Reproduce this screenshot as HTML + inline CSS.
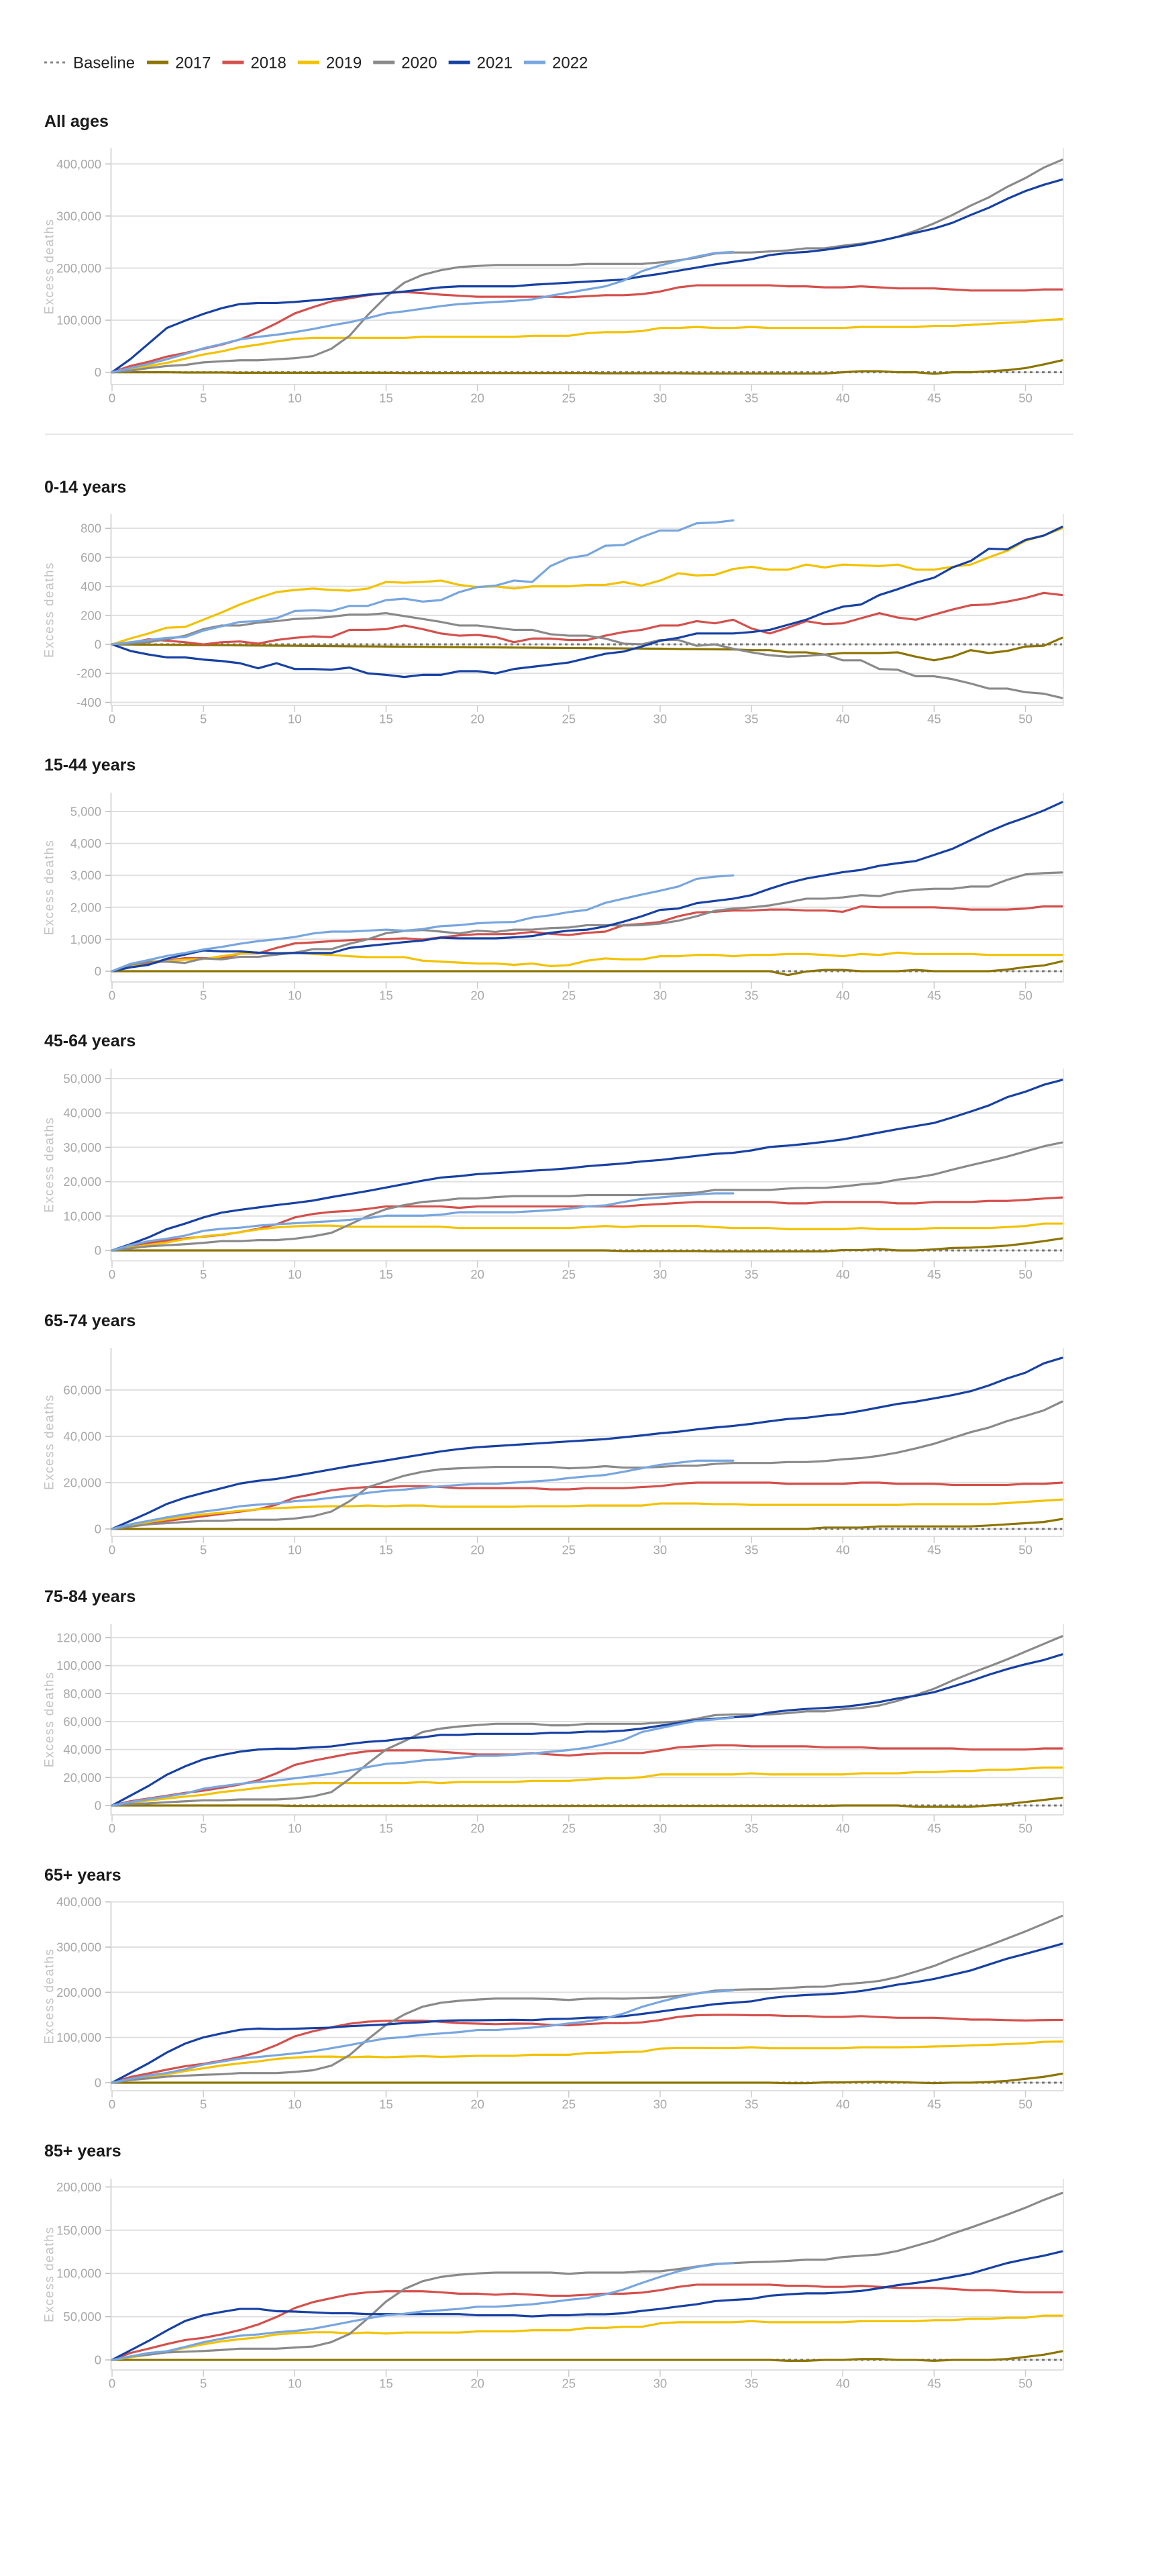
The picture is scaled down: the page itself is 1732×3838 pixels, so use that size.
<!DOCTYPE html>
<html>
<head>
<meta charset="utf-8">
<style>
  html,body{margin:0;padding:0;background:#fff;}
  svg{display:block;}
  text{font-family:"Liberation Sans",sans-serif;}
</style>
</head>
<body>
<svg id="root" width="1732" height="3838" viewBox="0 0 1732 3838" xmlns="http://www.w3.org/2000/svg"></svg>
<script>
// ---------- shared axis data ----------
const xTickValues = [0,5,10,15,20,25,30,35,40,45,50];
const seriesYears = ["2017","2018","2019","2020","2021","2022"];
const seriesColors = ["#8c7400","#d4504c","#f2c200","#8a8a8a","#1741a3","#78a6de"];

// ---------- All ages (thousands) ----------
const allTicks = [0,100,200,300,400];
const allTickLabels = ["0","100,000","200,000","300,000","400,000"];
const all2017 = [0,0,0,0,-0.5,-0.5,-0.5,-1,-1,-1,-1,-1,-1,-1,-1,-1,-1.5,-1.5,-1.5,-1.5,-1.5,-1.5,-1.5,-1.5,-1.5,-1.5,-1.5,-2,-2,-2,-2,-2,-2.5,-2.5,-2.5,-2.5,-2.5,-2.5,-2.5,-2.5,0,2,2,0,0,-3,0,0,2,4,8,15,23];
const all2018 = [0,12,20,30,37,45,53,63,77,94,113,125,136,142,148,152,154,152,149,147,145,145,145,145,145,144,146,148,148,150,155,163,167,167,167,167,167,165,165,163,163,165,163,161,161,161,159,157,157,157,157,159,159];
const all2019 = [0,6,12,18,26,34,40,48,53,59,64,66,66,66,66,66,66,68,68,68,68,68,68,70,70,70,75,77,77,79,85,85,87,85,85,87,85,85,85,85,85,87,87,87,87,89,89,91,93,95,97,100,102];
const all2020 = [0,3,8,12,14,19,21,23,23,25,27,31,45,70,110,145,172,187,196,202,204,206,206,206,206,206,208,208,208,208,211,215,220,228,230,230,232,234,238,238,243,247,252,260,272,286,302,320,336,356,373,393,408];
const all2021 = [0,25,55,85,99,112,123,131,133,133,135,138,141,145,149,152,155,159,163,165,165,165,165,168,170,172,174,176,178,184,189,195,201,207,212,217,225,229,231,235,240,245,252,260,268,276,287,302,316,333,348,360,370];
const all2022 = [0,8,16,25,35,46,54,63,68,72,77,83,90,96,104,113,117,122,127,131,133,135,137,140,147,153,159,165,176,194,205,214,222,229,231];

// ---------- 0-14 years ----------
const c014Ticks = [-400,-200,0,200,400,600,800];
const c014TickLabels = ["-400","-200","0","200","400","600","800"];
const c014_2017 = [0,-1,-2,-3,-4,-5,-6,-7,-8,-9,-10,-11,-12,-13,-14,-15,-16,-17,-18,-19,-20,-21,-22,-23,-24,-25,-26,-27,-28,-29,-30,-32,-33,-34,-35,-40,-40,-55,-55,-70,-60,-60,-60,-55,-85,-110,-85,-40,-60,-45,-15,-10,45];
const c014_2018 = [0,10,35,25,15,0,15,20,5,30,45,55,50,100,100,105,130,105,75,60,65,50,15,40,40,30,30,60,85,100,130,130,160,145,170,110,75,115,160,140,145,180,215,185,170,205,240,270,275,295,320,355,340];
const c014_2019 = [0,40,75,115,120,170,220,275,320,360,375,385,375,370,385,430,425,430,440,410,395,400,385,400,400,400,410,410,430,405,440,490,475,480,520,535,515,515,550,530,550,545,540,550,515,515,535,550,600,645,715,750,800];
const c014_2020 = [0,5,15,35,60,105,130,130,150,160,175,180,190,205,205,215,195,175,155,130,130,115,100,100,70,60,60,40,5,0,30,30,-10,0,-30,-55,-75,-85,-80,-70,-110,-110,-170,-175,-220,-220,-240,-270,-305,-305,-330,-340,-370];
const c014_2021 = [0,-45,-70,-90,-90,-105,-115,-130,-165,-130,-170,-170,-175,-160,-200,-210,-225,-210,-210,-185,-185,-200,-170,-155,-140,-125,-95,-65,-50,-15,25,45,75,75,75,85,100,135,170,220,260,275,340,380,425,460,530,575,660,655,720,750,810];
const c014_2022 = [0,15,30,45,50,95,125,155,160,180,230,235,230,265,265,305,315,295,305,360,395,405,440,430,540,595,615,680,685,740,785,785,835,840,855];

// ---------- 15-44 years ----------
const c1544Ticks = [0,1000,2000,3000,4000,5000];
const c1544TickLabels = ["0","1,000","2,000","3,000","4,000","5,000"];
const c1544_2017 = [0,0,0,0,0,0,0,0,0,0,0,0,0,0,0,0,0,0,0,0,0,0,0,0,0,0,0,0,0,0,0,0,0,0,0,0,0,-120,-10,40,40,0,0,0,40,0,0,0,0,50,130,180,310];
const c1544_2018 = [0,150,230,330,410,410,400,550,560,730,870,900,940,970,1000,1000,1030,990,1060,1120,1160,1160,1170,1230,1170,1130,1200,1240,1440,1480,1540,1720,1840,1860,1900,1900,1930,1930,1900,1900,1860,2030,2000,2000,2000,2000,1970,1930,1930,1930,1960,2030,2030];
const c1544_2019 = [0,160,300,320,360,380,470,550,580,560,580,540,510,470,440,440,440,330,300,270,240,240,200,240,160,190,330,400,370,370,470,470,510,510,470,510,510,540,540,510,470,540,510,580,540,540,540,540,510,510,510,510,510];
const c1544_2020 = [0,200,290,300,260,400,370,450,450,520,580,690,690,860,1000,1190,1260,1290,1240,1180,1270,1230,1300,1300,1350,1370,1440,1440,1430,1440,1490,1580,1720,1890,1960,2000,2060,2160,2270,2270,2310,2380,2350,2480,2550,2580,2580,2650,2650,2860,3030,3070,3090];
const c1544_2021 = [0,120,200,390,520,650,620,620,580,560,570,570,570,730,790,850,910,960,1050,1030,1030,1030,1060,1100,1200,1270,1300,1400,1550,1720,1920,1960,2130,2200,2270,2380,2580,2760,2900,3000,3100,3170,3300,3380,3450,3640,3830,4100,4370,4610,4810,5030,5290];
const c1544_2022 = [0,230,350,480,570,680,760,860,940,1000,1070,1180,1240,1240,1270,1300,1270,1320,1410,1440,1500,1530,1540,1680,1750,1850,1920,2140,2270,2400,2520,2650,2890,2960,3000];

// ---------- 45-64 years (thousands) ----------
const c4564Ticks = [0,10,20,30,40,50];
const c4564TickLabels = ["0","10,000","20,000","30,000","40,000","50,000"];
const c4564_2017 = [0,0,0,0,0,0,0,0,0,0,0,0,0,0,0,0,0,0,0,0,0,0,0,0,0,0,0,0,-0.2,-0.2,-0.2,-0.2,-0.2,-0.3,-0.3,-0.3,-0.3,-0.3,-0.3,-0.3,0.1,0.1,0.4,0,0,0.3,0.7,0.8,1.1,1.4,2,2.7,3.5];
const c4564_2018 = [0,1.2,2.1,2.9,3.5,4,4.5,5.3,6.3,7.6,9.6,10.6,11.2,11.5,12.1,12.8,12.8,12.8,12.8,12.4,12.8,12.8,12.8,12.8,12.8,12.8,12.8,12.8,12.8,13.2,13.5,13.8,14.1,14.1,14.1,14.1,14.1,13.7,13.7,14.1,14.1,14.1,14.1,13.7,13.7,14.1,14.1,14.1,14.4,14.4,14.7,15.1,15.4];
const c4564_2019 = [0,0.8,1.6,2.3,3.3,4.1,4.6,5.3,6.1,6.7,7,7.2,7.2,6.9,6.9,6.9,6.9,6.9,6.9,6.5,6.5,6.5,6.5,6.5,6.5,6.5,6.8,7.1,6.8,7.1,7.1,7.1,7.1,6.8,6.5,6.5,6.5,6.2,6.2,6.2,6.2,6.5,6.2,6.2,6.2,6.5,6.5,6.5,6.5,6.8,7.1,7.8,7.8];
const c4564_2020 = [0,0.6,1.2,1.5,1.8,2.2,2.7,2.7,3,3,3.4,4.1,5.1,7.5,10,12,13.2,14.1,14.5,15.1,15.1,15.5,15.8,15.8,15.8,15.8,16.1,16.1,16.1,16.1,16.4,16.6,16.8,17.6,17.6,17.6,17.6,18,18.2,18.2,18.6,19.2,19.6,20.6,21.2,22.1,23.5,24.8,26,27.3,28.8,30.3,31.4];
const c4564_2021 = [0,1.8,3.8,6.2,7.8,9.6,11,11.8,12.5,13.2,13.8,14.5,15.5,16.4,17.3,18.3,19.3,20.3,21.2,21.6,22.2,22.5,22.8,23.2,23.5,23.9,24.5,24.9,25.3,25.9,26.3,26.9,27.5,28.1,28.4,29.1,30.1,30.5,31,31.6,32.3,33.3,34.3,35.3,36.2,37.1,38.7,40.4,42.2,44.6,46.2,48.2,49.6];
const c4564_2022 = [0,1.5,2.7,3.4,4.3,5.7,6.3,6.6,7.2,7.6,7.9,8.2,8.5,8.9,9.4,10.1,10.1,10.1,10.4,11.1,11.1,11.1,11.1,11.4,11.7,12.1,12.8,13.1,14.1,15,15.4,15.9,16.3,16.6,16.6];

// ---------- 65-74 years (thousands) ----------
const c6574Ticks = [0,20,40,60];
const c6574TickLabels = ["0","20,000","40,000","60,000"];
const c6574_2017 = [0,0,0,0,0,0,0,0,0,0,0,0,0,0,0,0,0,0,0,0,0,0,0,0,0,0,0,0,0,0,0,0,0,0,0,0,0,0,0,0.6,0.6,0.6,1.1,1.1,1.1,1.1,1.1,1.1,1.5,2,2.5,3,4.3];
const c6574_2018 = [0,1.5,2.5,3.5,4.5,5.5,6.5,7.5,8.5,10.5,13.5,15,16.7,17.6,18.1,18.1,18.5,18.5,18.1,17.6,17.6,17.6,17.6,17.6,17.1,17.1,17.6,17.6,17.6,18.1,18.5,19.5,20,20,20,20,20,19.5,19.5,19.5,19.5,20,20,19.5,19.5,19.5,19,19,19,19,19.5,19.5,20];
const c6574_2019 = [0,1.5,3,4.2,5.3,6.3,7,7.8,8.5,9,9.3,9.6,9.8,9.8,10.1,9.8,10.1,10.1,9.6,9.6,9.6,9.6,9.6,9.8,9.8,9.8,10.1,10.1,10.1,10.1,11,11,11,10.7,10.7,10.4,10.4,10.4,10.4,10.4,10.4,10.4,10.4,10.4,10.7,10.7,10.7,10.7,10.7,11.2,11.7,12.2,12.7];
const c6574_2020 = [0,1,2,2.5,3,3.5,3.5,4,4,4,4.5,5.5,7.5,12,18,20.5,23,24.7,25.8,26.2,26.5,26.8,26.8,26.8,26.8,26.2,26.5,27.1,26.5,26.5,26.8,27.3,27.3,28.1,28.5,28.5,28.5,28.9,28.9,29.3,30.1,30.6,31.6,33,34.8,36.8,39.3,41.8,43.8,46.6,48.8,51.2,55];
const c6574_2021 = [0,3.5,7,10.8,13.5,15.6,17.6,19.6,20.8,21.6,22.9,24.3,25.7,27.1,28.4,29.6,30.9,32.2,33.5,34.5,35.3,35.8,36.3,36.8,37.3,37.8,38.3,38.8,39.6,40.4,41.3,42,43,43.8,44.5,45.4,46.5,47.5,48,49,49.7,51,52.5,54,55,56.4,57.8,59.5,62,65,67.5,71.5,73.9];
const c6574_2022 = [0,2,3.5,5,6.3,7.5,8.5,9.8,10.5,11,12,12.5,13.5,14.3,15.6,16.5,17,17.8,18.4,19,19.5,19.5,20,20.5,21,22,22.7,23.3,24.7,26.2,27.7,28.6,29.5,29.5,29.5];

// ---------- 75-84 years (thousands) ----------
const c7584Ticks = [0,20,40,60,80,100,120];
const c7584TickLabels = ["0","20,000","40,000","60,000","80,000","100,000","120,000"];
const c7584_2017 = [0,0,0,0,0,0,0,0,0,0,-0.3,-0.3,-0.3,-0.3,-0.3,-0.3,-0.3,-0.3,-0.3,-0.3,-0.3,-0.3,-0.3,-0.3,-0.3,-0.3,-0.3,-0.3,-0.3,-0.3,-0.3,-0.3,-0.3,-0.3,-0.3,-0.3,-0.3,-0.3,-0.3,-0.3,0,0,0,0,-1,-1,-1,-1,0,1,2.5,4,5.5];
const c7584_2018 = [0,3,5,7,9,10.6,12.7,15,18,23,29,32,34.5,37,38.8,39.4,39.4,39.4,38.4,37.5,36.5,36.5,36.5,37.5,36.5,35.7,36.7,37.5,37.5,37.5,39.4,41.6,42.3,43,43,42.3,42.3,42.3,42.3,41.6,41.6,41.6,40.8,40.8,40.8,40.8,40.8,40,40,40,40,40.8,40.8];
const c7584_2019 = [0,2,3.5,5,6.4,7.6,9.6,11,12.6,14.2,15.2,16,16,16,16,16,16,16.8,16,16.8,16.8,16.8,16.8,17.6,17.6,17.6,18.5,19.4,19.4,20.2,22.2,22.2,22.2,22.2,22.2,23,22.2,22.2,22.2,22.2,22.2,23,23,23,23.8,23.8,24.6,24.6,25.5,25.5,26.3,27.1,27.1];
const c7584_2020 = [0,1,1.5,2.3,3,3.7,3.7,4.3,4.3,4.3,5,6.5,9.5,19,30,40,46,52.5,55,56.5,57.5,58.4,58.4,58.4,57.3,57.3,58.4,58.4,58.4,58.4,59.3,60,62,64.6,65.1,65.1,65.1,66,67.3,67.3,68.8,69.7,71.5,74.8,79,83.5,89.3,94.5,99.4,104.5,110,115.5,121];
const c7584_2021 = [0,7,14,22,28,33,36,38.5,40,40.6,40.6,41.5,42.2,44,45.5,46.3,48,48.7,50.5,50.5,51.2,51.2,51.2,51.2,52,52,52.8,52.8,53.5,55,57,59,61,62,63,64,66.5,68,69,69.7,70.5,72,74,76.5,78.5,81,85,89,93.5,97.5,101,104,108];
const c7584_2022 = [0,2.5,4.5,6.5,8.5,12,13.8,15.5,16.8,17.8,19.4,21,22.7,25,27.5,29.8,30.6,32.2,33,34,35.5,35.5,36.3,37.2,38.4,39.6,41.3,43.8,46.8,52.5,55.3,58,60.5,61.5,62.8];

// ---------- 65+ years (thousands) ----------
const c65pTicks = [0,100,200,300,400];
const c65pTickLabels = ["0","100,000","200,000","300,000","400,000"];
const c65p_2017 = [0,0,0,0,0,0,0,0,0,0,0,0,0,0,0,0,0,0,0,0,0,0,0,0,0,0,0,0,0,0,0,0,0,0,0,0,0,-1,-1,0.6,0.6,1.6,2.1,1.1,0.1,-0.9,0.1,0.1,1.5,4,8.5,13,19.8];
const c65p_2018 = [0,12.5,20.5,28.8,36.5,41.6,48.7,57,67.5,83.1,102.5,113.8,122.6,130.4,135.1,136.9,137.3,137.3,134.7,131.7,130.7,129.5,130.7,130.5,127.8,127,129.7,131.7,131.7,133.4,138.5,145.6,149.3,150,150,149.3,149.3,147.5,147.5,145.6,145.6,147.3,145.3,143.6,143.6,143.6,141.9,139.6,139.6,138.4,137.7,138.5,139];
const c65p_2019 = [0,6.5,12.5,18.7,25.7,31.9,38.1,42.8,47.1,52.7,55.5,57.6,57.8,56.3,57.8,56.3,57.8,58.6,57.3,58.1,59.4,59.4,59.4,61.8,61.8,61.8,65.6,66.5,67.8,68.6,75.5,76.8,76.8,76.5,76.5,78.2,76.2,76.2,76.2,76.2,76.2,78.2,78.2,78.2,79,80.2,81,82.5,83.7,85.5,86.8,90.5,91];
const c65p_2020 = [0,6,9.5,13.5,15.5,17.5,18.7,21.3,21.3,21.3,23.8,27.5,37.6,61,96,128,151,168.2,176.8,181.2,184,186.2,186.2,186.2,185.1,183.1,185.9,186.5,185.9,187.4,188.6,192.3,197.3,203.7,205.6,206.6,207.1,209.4,212.1,212.5,217.9,220.8,225.1,233.8,245.8,258.3,274.6,289.3,303.7,319.1,334.8,351.7,369];
const c65p_2021 = [0,21.5,43,66.8,86.5,100.2,109.1,117.1,119.8,118.5,119.4,120.8,121.9,125.1,126.9,128.9,131.9,133.9,137,138,138.1,138.6,139.1,138.4,140.9,141.4,143.9,144.4,147.1,152.1,157.3,162.8,168.3,173.8,176.9,180,187.2,191.3,194,195.7,198.4,202.8,209.4,217,222.5,229.6,238.8,248.3,261.5,274.5,285,296,307.4];
const c65p_2022 = [0,8.5,16,21.5,29.8,40,46.8,53.3,56.8,60.8,64.9,69.5,76.2,83.3,91.1,97.9,101,106,108.9,112,116.5,116.5,119.3,122,126.1,131.1,135.5,142.9,152.9,167.7,179,189.1,197.5,201.5,204.3];

// ---------- 85+ years (thousands) ----------
const c85pTicks = [0,50,100,150,200];
const c85pTickLabels = ["0","50,000","100,000","150,000","200,000"];
const c85p_2017 = [0,0,0,0,0,0,0,0,0,0,0,0,0,0,0,0,0,0,0,0,0,0,0,0,0,0,0,0,0,0,0,0,0,0,0,0,0,-1,-1,0,0,1,1,0,0,-1,0,0,0,1,3.5,6,10];
const c85p_2018 = [0,8,13,18.3,23,25.5,29.5,34.5,41,49.6,60,66.8,71.4,75.8,78.2,79.4,79.4,79.4,78.2,76.6,76.6,75.4,76.6,75.4,74.2,74.2,75.4,76.6,76.6,77.8,80.6,84.5,87,87,87,87,87,85.7,85.7,84.5,84.5,85.7,84.5,83.3,83.3,83.3,82.1,80.6,80.6,79.4,78.2,78.2,78.2];
const c85p_2019 = [0,3,6,9.5,14,18,21.5,24,26,29.5,31,32,32,30.5,31.7,30.5,31.7,31.7,31.7,31.7,33,33,33,34.4,34.4,34.4,37,37,38.3,38.3,42.3,43.6,43.6,43.6,43.6,44.8,43.6,43.6,43.6,43.6,43.6,44.8,44.8,44.8,44.8,46,46,47.5,47.5,48.8,48.8,51.2,51.2];
const c85p_2020 = [0,4,6,8.7,9.5,10.3,11.5,13,13,13,14.3,15.5,20.6,30,48,67.5,82,91,96,98.5,100,101,101,101,101,99.6,101,101,101,102.5,102.5,105,108,111,112,113,113.5,114.5,115.9,115.9,119,120.5,122,126,132,138,146,153,160.5,168,176,185,193];
const c85p_2021 = [0,11,22,34,45,51.6,55.5,59,59,56.3,55.9,55,54,54,53,53,53,53,53,53,51.6,51.6,51.6,50.4,51.6,51.6,52.8,52.8,54,56.7,59,61.8,64.3,68,69.4,70.6,74.2,75.8,77,77,78.2,79.8,82.9,86.5,89,92.2,96,99.8,106,112,116.5,120.5,125.5];
const c85p_2022 = [0,4,8,10,15,20.5,24.5,28,29.5,32,33.5,36,40,44,48,51.6,53.4,56,57.5,59,61.5,61.5,63,64.3,66.7,69.5,71.5,75.8,81.4,89,96,102.5,107.5,110.5,112];

// ---------- chart layout (pixels, not data) ----------
const charts = [
  {name:"all-ages", title:"All ages", titleY:180, top:221, bottom:573, ymin:-23.7, ymax:430, ticks:allTicks, labels:allTickLabels, series:[all2017,all2018,all2019,all2020,all2021,all2022]},
  {name:"age-0-14", title:"0-14 years", titleY:725, top:766, bottom:1051, ymin:-421, ymax:898, ticks:c014Ticks, labels:c014TickLabels, series:[c014_2017,c014_2018,c014_2019,c014_2020,c014_2021,c014_2022]},
  {name:"age-15-44", title:"15-44 years", titleY:1139, top:1181, bottom:1463, ymin:-336, ymax:5588, ticks:c1544Ticks, labels:c1544TickLabels, series:[c1544_2017,c1544_2018,c1544_2019,c1544_2020,c1544_2021,c1544_2022]},
  {name:"age-45-64", title:"45-64 years", titleY:1550, top:1592, bottom:1878.5, ymin:-3.03, ymax:52.93, ticks:c4564Ticks, labels:c4564TickLabels, series:[c4564_2017,c4564_2018,c4564_2019,c4564_2020,c4564_2021,c4564_2022]},
  {name:"age-65-74", title:"65-74 years", titleY:1967, top:2008, bottom:2289, ymin:-3.19, ymax:78.26, ticks:c6574Ticks, labels:c6574TickLabels, series:[c6574_2017,c6574_2018,c6574_2019,c6574_2020,c6574_2021,c6574_2022]},
  {name:"age-75-84", title:"75-84 years", titleY:2378, top:2419.5, bottom:2704, ymin:-6.72, ymax:129.8, ticks:c7584Ticks, labels:c7584TickLabels, series:[c7584_2017,c7584_2018,c7584_2019,c7584_2020,c7584_2021,c7584_2022]},
  {name:"age-65-plus", title:"65+ years", titleY:2793, top:2833, bottom:3115, ymin:-17.8, ymax:401, ticks:c65pTicks, labels:c65pTickLabels, series:[c65p_2017,c65p_2018,c65p_2019,c65p_2020,c65p_2021,c65p_2022]},
  {name:"age-85-plus", title:"85+ years", titleY:3204, top:3246, bottom:3531, ymin:-11.6, ymax:209.6, ticks:c85pTicks, labels:c85pTickLabels, series:[c85p_2017,c85p_2018,c85p_2019,c85p_2020,c85p_2021,c85p_2022]}
];

const NS = "http://www.w3.org/2000/svg";
const root = document.getElementById("root");
const X0 = 167, X1 = 1583, XMAX = 52, PLOT_RIGHT = 1585, AXIS_X = 165.5;
function xScale(w){ return X0 + (X1 - X0) * w / XMAX; }
function mk(tag, attrs, parent){
  const e = document.createElementNS(NS, tag);
  for (const k in attrs) e.setAttribute(k, attrs[k]);
  (parent || root).appendChild(e);
  return e;
}

// ---------- legend ----------
const legend = mk("g", {});


const LY = 93;
const base = mk("line", {x1:66, y1:LY, x2:100, y2:LY, stroke:"#888", "stroke-width":3, "stroke-dasharray":"4,5"}, legend);


const baseTxt = mk("text", {x:109, y:LY+8.5, "font-size":24, fill:"#222"}, legend);
baseTxt.textContent = "Baseline";


let lx = 109 + baseTxt.getComputedTextLength() + 18;
for (let i = 0; i < seriesYears.length; i++) {
  const sw = mk("line", {x1:lx, y1:LY, x2:lx+32, y2:LY, stroke:seriesColors[i], "stroke-width":5}, legend);
  
  
  const t = mk("text", {x:lx+42, y:LY+8.5, "font-size":24, fill:"#222"}, legend);
  t.textContent = seriesYears[i];
  
  
  lx = lx + 42 + t.getComputedTextLength() + 17;
}

// separator under "All ages"
const sep = mk("line", {x1:67, y1:647, x2:1600, y2:647, stroke:"#e6e6e6", "stroke-width":2});



// ---------- charts ----------
charts.forEach(function(c){
  const g = mk("g", {});
  
  
  function yScale(v){ return c.bottom - (v - c.ymin) / (c.ymax - c.ymin) * (c.bottom - c.top); }

  const title = mk("text", {x:66, y:c.titleY + 9, "font-size":25, "font-weight":"bold", fill:"#1a1a1a"}, g);
  title.textContent = c.title;
  
  

  // gridlines + y ticks
  c.ticks.forEach(function(v, i){
    const y = yScale(v);
    const gl = mk("line", {x1:AXIS_X, y1:y, x2:PLOT_RIGHT, y2:y, stroke:"#e0e0e0", "stroke-width":2}, g);
    
    
    const tm = mk("line", {x1:157, y1:y, x2:AXIS_X, y2:y, stroke:"#bbb", "stroke-width":1.5}, g);
    
    
    const tl = mk("text", {x:151, y:y, "font-size":18.5, fill:"#a8a8a8", "text-anchor":"end", "dominant-baseline":"central"}, g);
    tl.textContent = c.labels[i];
    
    
  });

  // axes frame
  const ax = mk("line", {x1:AXIS_X, y1:c.top, x2:AXIS_X, y2:c.bottom, stroke:"#d8d8d8", "stroke-width":2}, g);
  
  
  const rb = mk("line", {x1:PLOT_RIGHT, y1:c.top, x2:PLOT_RIGHT, y2:c.bottom, stroke:"#e6e6e6", "stroke-width":2}, g);
  
  
  const bx = mk("line", {x1:AXIS_X, y1:c.bottom, x2:PLOT_RIGHT, y2:c.bottom, stroke:"#e0e0e0", "stroke-width":2}, g);
  
  

  // x ticks
  xTickValues.forEach(function(w){
    const x = xScale(w);
    const tm = mk("line", {x1:x, y1:c.bottom, x2:x, y2:c.bottom + 10, stroke:"#ccc", "stroke-width":1.5}, g);
    
    
    const tl = mk("text", {x:x, y:c.bottom + 20, "font-size":18.5, fill:"#a8a8a8", "text-anchor":"middle", "dominant-baseline":"central"}, g);
    tl.textContent = String(w);
    
    
  });

  // y-axis title
  const cy = (c.top + c.bottom) / 2;
  const yt = mk("text", {x:0, y:0, "font-size":19, fill:"#c4c4c4", "letter-spacing":"1.5", "text-anchor":"middle", "dominant-baseline":"central", transform:"translate(74," + cy + ") rotate(-90)"}, g);
  yt.textContent = "Excess deaths";
  
  

  // baseline
  const bl = mk("line", {x1:xScale(0), y1:yScale(0), x2:xScale(XMAX), y2:yScale(0), stroke:"#777", "stroke-width":3, "stroke-dasharray":"4,5"}, g);
  
  

  // series lines
  c.series.forEach(function(vals, si){
    let d = "";
    vals.forEach(function(v, w){
      d += (w === 0 ? "M" : "L") + xScale(w).toFixed(2) + "," + yScale(v).toFixed(2);
    });
    const p = mk("path", {d:d, fill:"none", stroke:seriesColors[si], "stroke-width":3.2, "stroke-linejoin":"round", "stroke-linecap":"round"}, g);
    
    
  });
});
</script>
</body>
</html>
